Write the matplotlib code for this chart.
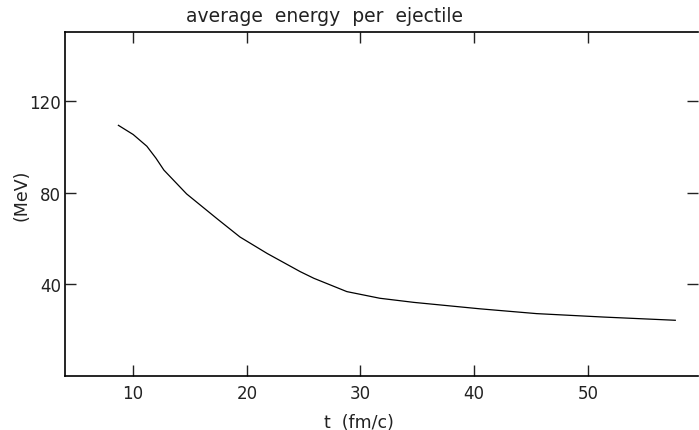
import numpy as np
from matplotlib import pyplot as plt

# values
t = [8.7, 10.0, 11.2, 12.0, 12.7, 14.7, 17.4, 19.4, 21.8, 24.7, 25.9, 28.8, 31.7, 34.7, 40.5, 45.5, 51.4, 57.7]
energy = [109.3, 105.3, 100.2, 95.0, 89.8, 79.4, 68.5, 60.6, 53.4, 45.5, 42.6, 36.8, 33.9, 32.1, 29.3, 27.2, 25.7, 24.3]
xticks = [10, 20, 30, 40, 50]
yticks = [40, 80, 120]

W = 699
H = 431
fig = plt.figure(figsize=(W / 100, H / 100), dpi=100)
ax = fig.add_axes([65 / W, 1 - 377 / H, (698 - 65) / W, (377 - 33) / H])

ax.plot(t, energy, color="black", linewidth=0.9)

ax.set_xlim(4, 59.7)
ax.set_ylim(0, 150)
ax.set_xticks(xticks)
ax.set_yticks(yticks)
ax.tick_params(axis="x", direction="in", length=8, width=1, top=True, pad=6, labelsize=12, colors="#222222")
ax.tick_params(axis="y", direction="in", length=8, width=1, right=True, pad=3, labelsize=12, colors="#222222")
ax.spines["right"].set_visible(False)
for s in ["left", "bottom", "top"]:
	ax.spines[s].set_linewidth(1.2)

fig.text(324 / W, 1 - 16 / H, "average  energy  per  ejectile", ha="center", va="center", fontsize=13.5, color="#222222")
fig.text(359 / W, 1 - 423 / H, "t  (fm/c)", ha="center", va="center", fontsize=12.5, color="#222222")
fig.text(22 / W, 1 - 195 / H, "(MeV)", ha="center", va="center", rotation=90, fontsize=12.5, color="#222222")

fig.savefig("out.png", dpi=100)
